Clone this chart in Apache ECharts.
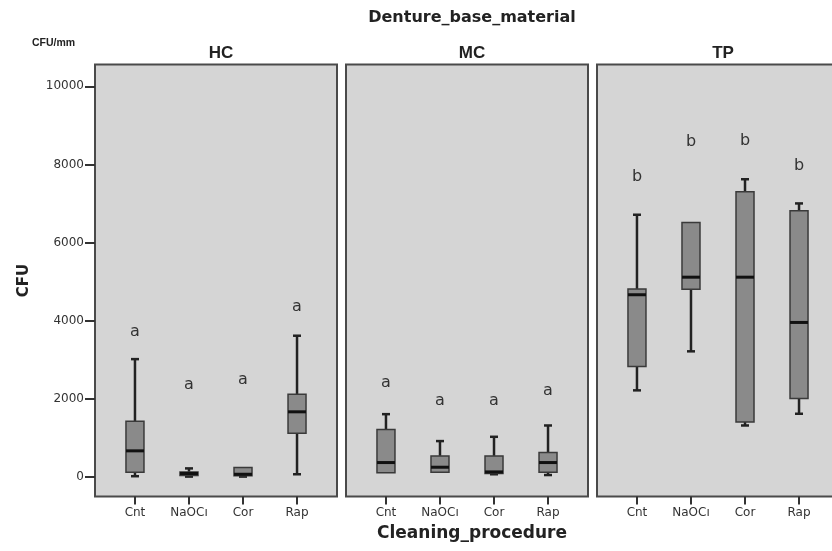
<!DOCTYPE html>
<html>
<head>
<meta charset="utf-8">
<script src="https://cdn.jsdelivr.net/npm/echarts@6/dist/echarts.min.js"></script>
<style>html,body{margin:0;padding:0;background:#fff;}#c{width:832px;height:551px;}</style>
</head>
<body>
<div id="c"></div>
<script>
const categories = ['Cnt', 'NaOCı', 'Cor', 'Rap'];
const materials = ['HC', 'MC', 'TP'];
const yTicks = [0, 2000, 4000, 6000, 8000, 10000];
const xTicks = [1, 2, 3, 4];
// [low whisker, Q1, median, Q3, high whisker]
const hcStats = [[10, 110, 660, 1420, 3010], [0, 30, 80, 120, 210], [0, 20, 60, 230, 230], [60, 1110, 1660, 2110, 3610]];
const mcStats = [[90, 100, 360, 1210, 1600], [100, 110, 240, 530, 910], [60, 80, 120, 530, 1020], [40, 110, 360, 620, 1310]];
const tpStats = [[2210, 2820, 4660, 4810, 6710], [3210, 4800, 5110, 6510, 6510], [1310, 1400, 5110, 7300, 7620], [1610, 2000, 3950, 6810, 7000]];
const hcLetters = ['a', 'a', 'a', 'a'];
const mcLetters = ['a', 'a', 'a', 'a'];
const tpLetters = ['b', 'b', 'b', 'b'];
const hcLetterY = [3700, 2340, 2470, 4340];
const mcLetterY = [2390, 1930, 1930, 2190];
const tpLetterY = [7690, 8590, 8610, 7970];

const allStats = [hcStats, mcStats, tpStats];
const allLetters = [hcLetters, mcLetters, tpLetters];
const allLetterY = [hcLetterY, mcLetterY, tpLetterY];

const panelLeft = [95, 346, 597];
const panelWidth = 242;
const panelTop = 64.5;
const panelHeight = 432;
const yMin = -510, yMax = 10560;

const FONT = 'DejaVu Sans';
const grids = [], xAxes = [], yAxes = [], helperY = [], series = [], titles = [];

titles.push({ text: 'Denture_base_material', left: 467, top: 5, textAlign: 'center',
  textStyle: { fontFamily: FONT, fontWeight: 'bold', fontSize: 16, color: '#222' } });
titles.push({ text: 'CFU/mm', left: 27, top: 33,
  textStyle: { fontFamily: 'Liberation Sans', fontWeight: 'bold', fontSize: 10.5, color: '#222' } });
titles.push({ text: 'Cleaning_procedure', left: 467, top: 520, textAlign: 'center',
  textStyle: { fontFamily: FONT, fontWeight: 'bold', fontSize: 17, color: '#222' } });

materials.forEach((m, i) => {
  grids.push({ left: panelLeft[i], top: panelTop, width: panelWidth, height: panelHeight,
    outerBoundsMode: 'none', containLabel: false,
    show: true, backgroundColor: '#d5d5d5', borderColor: '#4a4a4a', borderWidth: 2 });
  titles.push({ text: m, left: panelLeft[i] + panelWidth / 2, top: 40, textAlign: 'center',
    textStyle: { fontFamily: 'Liberation Sans', fontWeight: 'bold', fontSize: 17, color: '#222' } });
  // x axis sits on the zero of a hidden helper y axis whose zero is the panel bottom
  xAxes.push({ type: 'value', gridIndex: i, min: 0.26, max: 4.74,
    axisLine: { show: false, onZero: true, onZeroAxisIndex: materials.length + i }, splitLine: { show: false },
    axisTick: { show: true, customValues: xTicks, length: 8, inside: false, lineStyle: { color: '#333', width: 2 } },
    axisLabel: { show: true, customValues: xTicks, margin: 10,
      formatter: v => categories[Math.round(v) - 1] || '',
      fontFamily: FONT, fontSize: 12, color: '#333' } });
  yAxes.push({ type: 'value', gridIndex: i, min: yMin, max: yMax,
    axisLine: { show: false, onZero: false }, splitLine: { show: false },
    axisTick: { show: i === 0, customValues: yTicks, length: 10, lineStyle: { color: '#333', width: 2 } },
    axisLabel: { show: i === 0, customValues: yTicks, margin: 11, formatter: v => String(v),
      fontFamily: FONT, fontSize: 12, color: '#333' },
    name: i === 0 ? 'CFU' : '', nameLocation: 'middle', nameGap: 63, nameRotate: 90,
    nameTextStyle: { fontFamily: FONT, fontWeight: 'bold', fontSize: 15, color: '#222' } });
  helperY.push({ type: 'value', gridIndex: i, min: 0, max: 1, show: false,
    axisLine: { show: false }, axisTick: { show: false }, axisLabel: { show: false }, splitLine: { show: false } });
  const stats = allStats[i];
  const letters = allLetters[i];
  const letterY = allLetterY[i];
  series.push({
    type: 'custom', xAxisIndex: i, yAxisIndex: i, clip: false,
    data: stats.map((s, k) => [xTicks[k], s[0], s[1], s[2], s[3], s[4], letterY[k]]),
    renderItem: (params, api) => {
      const x = api.value(0);
      const pLow = api.coord([x, api.value(1)]);
      const pQ1 = api.coord([x, api.value(2)]);
      const pMed = api.coord([x, api.value(3)]);
      const pQ3 = api.coord([x, api.value(4)]);
      const pHigh = api.coord([x, api.value(5)]);
      const pLet = api.coord([x, api.value(6)]);
      const hb = 9, hc = 4;
      const cx = pMed[0];
      const lineStyle = { stroke: '#222', lineWidth: 2.5 };
      const children = [];
      if (pHigh[1] < pQ3[1] - 0.5) {
        children.push({ type: 'line', shape: { x1: cx, y1: pQ3[1], x2: cx, y2: pHigh[1] }, style: lineStyle });
        children.push({ type: 'line', shape: { x1: cx - hc, y1: pHigh[1], x2: cx + hc, y2: pHigh[1] }, style: lineStyle });
      }
      if (pLow[1] > pQ1[1] + 0.5) {
        children.push({ type: 'line', shape: { x1: cx, y1: pQ1[1], x2: cx, y2: pLow[1] }, style: lineStyle });
        children.push({ type: 'line', shape: { x1: cx - hc, y1: pLow[1], x2: cx + hc, y2: pLow[1] }, style: lineStyle });
      }
      children.push({ type: 'rect', shape: { x: cx - hb, y: pQ3[1], width: hb * 2, height: Math.max(pQ1[1] - pQ3[1], 1) },
        style: { fill: '#8a8a8a', stroke: '#3a3a3a', lineWidth: 1.5 } });
      children.push({ type: 'line', shape: { x1: cx - hb, y1: pMed[1], x2: cx + hb, y2: pMed[1] },
        style: { stroke: '#111', lineWidth: 3 } });
      children.push({ type: 'text', x: cx, y: pLet[1],
        style: { text: letters[params.dataIndex], fill: '#333', font: '16px "DejaVu Sans"', align: 'center', verticalAlign: 'middle' } });
      return { type: 'group', children };
    }
  });
});

const chart = echarts.init(document.getElementById('c'), null, { renderer: 'canvas' });
chart.setOption({ animation: false, backgroundColor: '#fff', title: titles, grid: grids,
  xAxis: xAxes, yAxis: yAxes.concat(helperY), series });
</script>
</body>
</html>
